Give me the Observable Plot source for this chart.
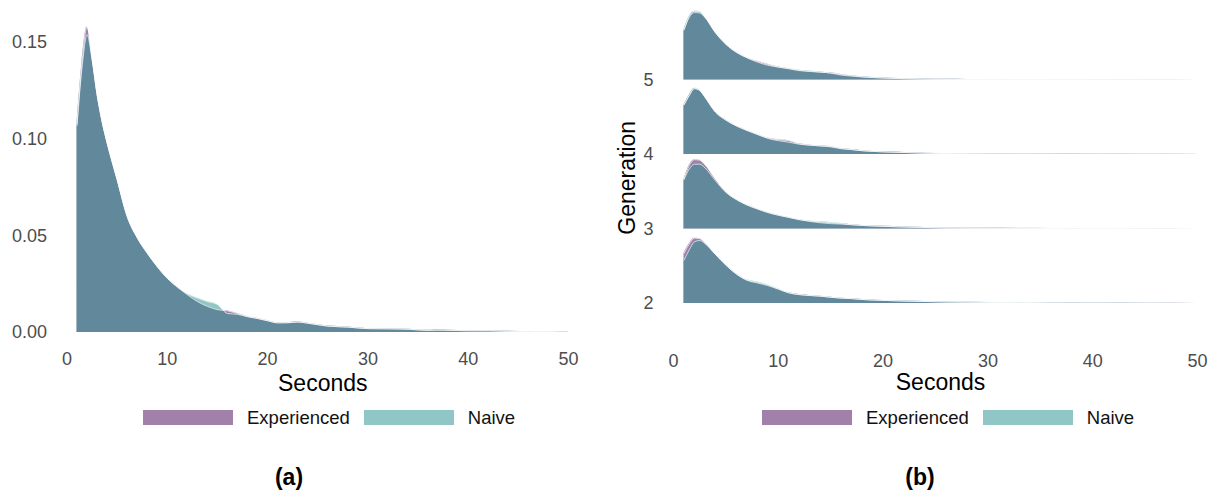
<!DOCTYPE html>
<html>
<head>
<meta charset="utf-8">
<script src="https://cdn.jsdelivr.net/npm/d3@7"></script>
<script src="https://cdn.jsdelivr.net/npm/@observablehq/plot@0.6"></script>
<style>
  body { margin: 0; background: #fff; font-family: "Liberation Sans", Arial, Helvetica, sans-serif; }
  #wrap { position: relative; width: 1219px; height: 493px; overflow: hidden; }
  .panel { position: absolute; top: 0; }
  .legend { position: absolute; top: 405px; height: 25px; display: flex; align-items: center; font-size: 18.5px; color: #111; white-space: nowrap; }
  .sw { width: 90px; height: 15px; margin-right: 14px; }
  .lab { margin-right: 14px; }
  .cap { position: absolute; top: 466px; width: 200px; text-align: center; font-weight: bold; font-size: 23px; line-height: 23px; color: #000; }
</style>
</head>
<body>
<div id="wrap">
  <div id="panelA" class="panel" style="left:0px"></div>
  <div id="panelB" class="panel" style="left:609px"></div>
  <div class="legend" style="left:143px" id="legendA"></div>
  <div class="legend" style="left:762px" id="legendB"></div>
  <div class="cap" style="left:189px">(a)</div>
  <div class="cap" style="left:820px">(b)</div>
</div>
<script>
// Groups and fill colours (drawn at 50% opacity)
const groups = ["Experienced", "Naive"];
const palette = ["#440154", "#21908D"];

// (a) response-time densities, all generations pooled
const seconds = [1, 1.5, 2, 2.5, 3, 3.5, 4, 5, 6, 7, 8, 9, 10, 11, 12, 13, 14, 15, 16, 17, 18, 19, 20, 21, 22, 23, 24, 25, 26, 28, 30, 32, 34, 36, 37, 38, 40, 42, 44, 46, 48, 50];
const experiencedAll = [0.108, 0.140, 0.158, 0.142, 0.123, 0.109, 0.098, 0.079, 0.060, 0.049, 0.041, 0.034, 0.028, 0.0235, 0.0195, 0.016, 0.0135, 0.0118, 0.0112, 0.0098, 0.0082, 0.0072, 0.006, 0.005, 0.005, 0.0054, 0.0048, 0.004, 0.0033, 0.0028, 0.002, 0.0019, 0.0017, 0.0011, 0.0015, 0.0012, 0.0009, 0.0008, 0.0006, 0.0005, 0.0005, 0.0001];
const naiveAll = [0.107, 0.137, 0.154, 0.141, 0.123, 0.109, 0.098, 0.079, 0.060, 0.049, 0.041, 0.034, 0.028, 0.0235, 0.020, 0.0178, 0.016, 0.0145, 0.0098, 0.0094, 0.0082, 0.0073, 0.0062, 0.005, 0.0051, 0.0055, 0.0048, 0.0041, 0.0033, 0.0028, 0.002, 0.0019, 0.0017, 0.0011, 0.0011, 0.0011, 0.0009, 0.001, 0.0006, 0.0005, 0.0005, 0.0001];

// (b) densities by generation
const generations = [5, 4, 3, 2];
const ridgeSeconds = [1, 1.5, 2, 2.5, 3, 4, 5, 6, 7, 8, 9, 10, 11, 12, 13, 14, 15, 16, 17, 18, 20, 22, 24, 26, 28, 30, 33, 36, 40, 45, 50];
const experiencedGen5 = [0.112, 0.140, 0.151, 0.150, 0.140, 0.106, 0.080, 0.062, 0.050, 0.042, 0.035, 0.029, 0.025, 0.021, 0.019, 0.0175, 0.016, 0.0125, 0.0098, 0.0072, 0.0045, 0.003, 0.002, 0.0015, 0.0012, 0.001, 0.0008, 0.0006, 0.0005, 0.0003, 0.0001];
const naiveGen5 = [0.112, 0.142, 0.154, 0.153, 0.141, 0.106, 0.080, 0.062, 0.050, 0.040, 0.033, 0.029, 0.026, 0.022, 0.020, 0.0178, 0.0155, 0.011, 0.0088, 0.0068, 0.0045, 0.003, 0.002, 0.0015, 0.0012, 0.001, 0.0008, 0.0006, 0.0005, 0.0003, 0.0001];
const experiencedGen4 = [0.111, 0.132, 0.147, 0.143, 0.128, 0.095, 0.077, 0.064, 0.054, 0.045, 0.037, 0.033, 0.031, 0.024, 0.021, 0.019, 0.017, 0.013, 0.011, 0.0085, 0.006, 0.0045, 0.003, 0.0022, 0.0018, 0.0015, 0.0013, 0.001, 0.0008, 0.0006, 0.0003];
const naiveGen4 = [0.111, 0.132, 0.148, 0.144, 0.129, 0.095, 0.077, 0.064, 0.054, 0.045, 0.036, 0.031, 0.0275, 0.023, 0.021, 0.0195, 0.018, 0.0135, 0.011, 0.0085, 0.006, 0.0045, 0.003, 0.0022, 0.0018, 0.0015, 0.0013, 0.0011, 0.001, 0.0008, 0.0005];
const experiencedGen3 = [0.111, 0.142, 0.155, 0.154, 0.144, 0.112, 0.083, 0.066, 0.054, 0.045, 0.037, 0.031, 0.026, 0.021, 0.017, 0.014, 0.012, 0.011, 0.0095, 0.008, 0.006, 0.0045, 0.0035, 0.002, 0.0018, 0.0015, 0.0012, 0.001, 0.0008, 0.0005, 0.0002];
const naiveGen3 = [0.111, 0.134, 0.145, 0.145, 0.137, 0.108, 0.082, 0.066, 0.054, 0.045, 0.037, 0.031, 0.026, 0.021, 0.018, 0.016, 0.0145, 0.0125, 0.0098, 0.008, 0.006, 0.0045, 0.0035, 0.0022, 0.0018, 0.0016, 0.0018, 0.0012, 0.0008, 0.0005, 0.0002];
const experiencedGen2 = [0.112, 0.133, 0.146, 0.145, 0.136, 0.110, 0.086, 0.066, 0.052, 0.046, 0.040, 0.032, 0.024, 0.020, 0.018, 0.0165, 0.014, 0.012, 0.011, 0.009, 0.007, 0.0055, 0.0045, 0.0035, 0.003, 0.0025, 0.002, 0.0015, 0.0012, 0.0008, 0.0003];
const naiveGen2 = [0.097, 0.120, 0.138, 0.141, 0.134, 0.110, 0.086, 0.066, 0.053, 0.048, 0.042, 0.033, 0.024, 0.020, 0.018, 0.0165, 0.014, 0.012, 0.011, 0.009, 0.007, 0.0055, 0.0045, 0.0035, 0.003, 0.0025, 0.0025, 0.0015, 0.0012, 0.0008, 0.0003];

const secondsTicks = [0, 10, 20, 30, 40, 50];
const densityTicks = [0, 0.05, 0.10, 0.15];
const ridgeScale = 6; // ridge height in generation units per unit density

const font = "Liberation Sans, Arial, Helvetica, sans-serif";
const tickGray = "#4d4d4d";
const curve = "monotone-x";

// Long tables
const tableA = [];
[experiencedAll, naiveAll].forEach((vals, gi) =>
  seconds.forEach((s, i) => tableA.push({group: groups[gi], s, d: vals[i]})));

const ridgeValues = {
  5: [experiencedGen5, naiveGen5],
  4: [experiencedGen4, naiveGen4],
  3: [experiencedGen3, naiveGen3],
  2: [experiencedGen2, naiveGen2]
};
const tableB = [];
generations.forEach(gen => ridgeValues[gen].forEach((vals, gi) =>
  ridgeSeconds.forEach((s, i) => tableB.push({gen, group: groups[gi], key: gen + groups[gi], s, d: vals[i]}))));

const plotA = Plot.plot({
  width: 609, height: 400,
  marginLeft: 66.5, marginRight: 41, marginTop: 10, marginBottom: 53,
  style: {fontFamily: font, background: "white", overflow: "visible"},
  x: {domain: [0, 50]},
  y: {domain: [-0.00776, 0.1665]},
  color: {domain: groups, range: palette},
  marks: [
    Plot.areaY(tableA, {x: "s", y1: 0, y2: "d", z: "group", fill: "group", fillOpacity: 0.5, curve}),
    Plot.lineY(tableA, {x: "s", y: "d", z: "group", stroke: "white", strokeWidth: 0.7, curve}),
    Plot.axisX({ticks: secondsTicks, tickSize: 0, tickPadding: 5, label: null, fill: tickGray, fontSize: 18}),
    Plot.axisY({ticks: densityTicks, tickFormat: d3.format(".2f"), tickSize: 0, tickPadding: 20, label: null, fill: tickGray, fontSize: 18}),
    Plot.text(["Seconds"], {text: d => d, frameAnchor: "bottom", lineAnchor: "bottom", dx: 5, dy: 43, fontSize: 23, fill: "black"})
  ]
});
document.getElementById("panelA").append(plotA);

const plotB = Plot.plot({
  width: 610, height: 400,
  marginLeft: 64, marginRight: 22, marginTop: 5, marginBottom: 63.44,
  style: {fontFamily: font, background: "white", overflow: "visible"},
  x: {domain: [0, 50]},
  y: {domain: [1.55, 6]},
  color: {domain: groups, range: palette},
  marks: [
    Plot.areaY(tableB, {x: "s", y1: "gen", y2: d => d.gen + d.d * ridgeScale, z: "key", fill: "group", fillOpacity: 0.5, curve}),
    Plot.lineY(tableB, {x: "s", y: d => d.gen + d.d * ridgeScale, z: "key", stroke: "white", strokeWidth: 0.7, curve}),
    Plot.axisX({ticks: secondsTicks, tickSize: 0, tickPadding: 17, label: null, fill: tickGray, fontSize: 18}),
    Plot.axisY({ticks: generations, tickFormat: d => String(d), tickSize: 0, tickPadding: 20, label: null, fill: tickGray, fontSize: 18}),
    Plot.text(["Seconds"], {text: d => d, frameAnchor: "bottom", lineAnchor: "bottom", dx: 5, dy: 53.4, fontSize: 23, fill: "black"}),
    Plot.text(["Generation"], {text: d => d, frameAnchor: "left", textAnchor: "middle", lineAnchor: "top", rotate: -90, dx: -55, dy: 6.5, fontSize: 23, fill: "black"})
  ]
});
document.getElementById("panelB").append(plotB);

// Legends below each panel
function fillLegend(el) {
  groups.forEach((g, i) => {
    const sw = document.createElement("div");
    sw.className = "sw";
    sw.style.background = palette[i];
    sw.style.opacity = 0.5;
    const lab = document.createElement("span");
    lab.className = "lab";
    lab.textContent = g;
    el.append(sw, lab);
  });
}
fillLegend(document.getElementById("legendA"));
fillLegend(document.getElementById("legendB"));
</script>
</body>
</html>
